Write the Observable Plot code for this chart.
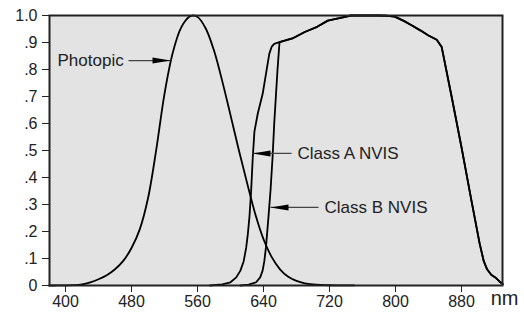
<!DOCTYPE html>
<html><head><meta charset="utf-8">
<script src="https://cdn.jsdelivr.net/npm/d3@7"></script>
<script src="https://cdn.jsdelivr.net/npm/@observablehq/plot@0.6"></script>
<style>body{margin:0;background:#fff}#chart svg{display:block}</style>
</head><body><div id="chart"></div>
<script>
// Photopic response (nm, relative value)
const photopicNm  = [380,390,400,410,420,430,440,450,460,470,480,490,500,510,520,530,540,550,555,560,570,580,590,600,610,620,630,640,650,660,670,680,690,700,710,720,730,740,750];
const photopicVal = [0.00004,0.00012,0.0004,0.0012,0.004,0.0116,0.023,0.038,0.06,0.091,0.139,0.208,0.323,0.503,0.71,0.862,0.954,0.995,1.0,0.995,0.952,0.87,0.757,0.631,0.503,0.381,0.265,0.172,0.105,0.06,0.032,0.017,0.0082,0.0041,0.0021,0.001,0.0005,0.00025,0.0001];

// Class A NVIS filter
const classANm  = [575,590,600,607,612,616,619,621,623,625,627,629,633,639,643,647,650,653,659.4,675,690,705,718,732,746,762,779,790,799,810,820,830,840,850,856,868,880,892,902,907,911,916,921,926,930];
const classAVal = [0,0.004,0.012,0.03,0.055,0.09,0.14,0.19,0.255,0.35,0.475,0.57,0.636,0.71,0.784,0.858,0.885,0.895,0.901,0.915,0.939,0.958,0.981,0.99,1.0,1.0,1.0,0.999,0.996,0.98,0.963,0.945,0.926,0.91,0.883,0.70,0.512,0.315,0.155,0.09,0.06,0.04,0.03,0.015,0.005];

// Class B NVIS filter (rising edge; joins Class A plateau)
const classBNm  = [612,622,631,636,639,641,643,646,648.5,651,653,655,657,659.4];
const classBVal = [0,0.003,0.012,0.03,0.056,0.09,0.142,0.253,0.352,0.475,0.6,0.7,0.8,0.901];

const xTicks = [400,480,560,640,720,800,880];
const yTicks = [0,0.1,0.2,0.3,0.4,0.5,0.6,0.7,0.8,0.9,1.0];
const yTickLabels = ["0",".1",".2",".3",".4",".5",".6",".7",".8",".9","1.0"];
const unitLabel = "nm";

// Annotations
const labels      = ["Photopic","Class A NVIS","Class B NVIS"];
const labelNm     = [390.3, 681.2, 714];
const labelVal    = [0.833, 0.489, 0.289];
const arrowFromNm = [476.4, 674, 706.7];
const arrowToNm   = [527.3, 626.7, 648.5];

const photopic = photopicNm.map((x,i)=>({x, y: photopicVal[i]}));
const classA = classANm.map((x,i)=>({x, y: classAVal[i]}));
const classB = classBNm.map((x,i)=>({x, y: classBVal[i]}))
  .concat(classA.filter(d => d.x > 659.4));
const ann = labels.map((t,i)=>({t, x: labelNm[i], y: labelVal[i], x1: arrowFromNm[i], x2: arrowToNm[i],
  rot: arrowToNm[i] > arrowFromNm[i] ? 0 : 180}));

const arrowHead = { draw(ctx) { ctx.moveTo(0,0); ctx.lineTo(-18,-3); ctx.lineTo(-18,3); ctx.closePath(); } };

const chart = Plot.plot({
  width: 524, height: 316,
  marginLeft: 49, marginRight: 22, marginTop: 15, marginBottom: 31,
  style: {fontFamily: "'Liberation Sans', Arial, sans-serif", fontSize: "16px", color: "#222", background: "#fff"},
  x: {domain: [380.6, 929.7]},
  y: {domain: [0, 1]},
  marks: [
    Plot.frame({fill: "#e3e3e3", stroke: "none"}),
    Plot.line(photopic, {x: "x", y: "y", curve: "catmull-rom", stroke: "#000", strokeWidth: 1.8}),
    Plot.line(classA, {x: "x", y: "y", curve: "linear", stroke: "#000", strokeWidth: 1.8}),
    Plot.line(classB, {x: "x", y: "y", curve: "linear", stroke: "#000", strokeWidth: 1.8}),
    Plot.link(ann, {x1: "x1", x2: "x2", y1: "y", y2: "y", stroke: "#444", strokeWidth: 1.3}),
    Plot.dot(ann, {x: "x2", y: "y", symbol: arrowHead, fill: "#000", stroke: "none", rotate: "rot"}),
    Plot.text(ann, {x: "x", y: "y", text: "t", textAnchor: "start", fontSize: 17, fill: "#222"}),
    Plot.frame({stroke: "#222", strokeWidth: 2}),
    Plot.axisX({ticks: xTicks, tickSize: 7, tickPadding: 3, label: null, fontSize: 16}),
    Plot.axisY({ticks: yTicks, tickFormat: d => yTickLabels[Math.round(d*10)], tickSize: 7, tickPadding: 5, label: null, fontSize: 16}),
    Plot.text([unitLabel], {frameAnchor: "bottom-right", text: d => d, textAnchor: "end", dx: 16, dy: 19, fontSize: 20, fill: "#222"})
  ]
});
document.getElementById("chart").append(chart);
</script>
</body></html>
